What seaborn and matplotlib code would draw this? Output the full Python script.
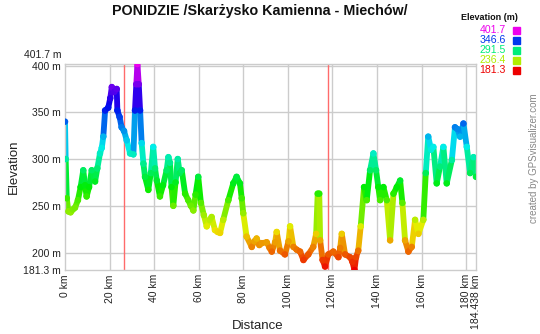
import colorsys
import numpy as np
import pandas as pd
import matplotlib
matplotlib.use("Agg")
import matplotlib.pyplot as plt
from matplotlib.colors import ListedColormap, Normalize
from matplotlib.collections import LineCollection
from matplotlib.patches import Rectangle
import seaborn as sns

# Elevation profile of the route (distance in km, elevation in m)
distance_km = [
    0, 0.3, 0.8, 1.5, 2.5, 3.5, 4.5, 5.8, 7.0, 8.2, 9.0, 9.7, 10.8, 12.0, 13.5,
    14.5, 15.7, 16.5, 17.2, 18.0, 19.4, 20.3, 21.0, 22.2, 23.2, 23.5, 24.5, 25.4,
    26.5, 27.7, 29.2, 30.7, 31.4, 32.0, 32.5, 33.1, 33.7, 34.4, 35.2, 35.9, 37.4,
    38.5, 39.6, 40.4, 41.2, 42.6, 44.0, 45.6, 46.4, 47.1, 47.8, 48.6, 49.6, 50.6,
    51.5, 52.4, 53.9, 55.3, 56.5, 57.6, 58.6, 59.8, 61.0, 62.3, 63.6, 65.0, 65.8,
    67.3, 68.5, 69.6, 71.0, 73.3, 75.5, 77.0, 78.5, 79.3, 80.0, 81.5, 83.8, 85.0,
    86.0, 87.2, 88.3, 90.5, 91.8, 92.8, 94.3, 95.0, 96.5, 98.7, 100.3, 101.0,
    102.5, 104.0, 105.5, 107.0, 109.2, 111.4, 112.7, 113.4, 114.1, 114.5, 115.6,
    116.7, 118.2, 120.4, 122.7, 123.5, 124.2, 125.7, 127.9, 129.0, 129.9, 130.6,
    131.6, 132.7, 134.2, 135.4, 136.9, 138.4, 139.6, 140.6, 141.4, 142.9, 144.4,
    145.9, 147.4, 148.9, 150.4, 151.4, 152.6, 154.1, 155.6, 157.1, 158.6, 160.8,
    161.9, 163.0, 164.3, 165.3, 166.8, 168.3, 169.8, 171.3, 173.6, 175.0, 176.2,
    177.3, 178.8, 180.3, 181.8, 183.3, 184.438,
]
elevation_m = [
    340, 300, 258, 244, 243, 246, 248, 256, 270, 288, 272, 260, 270, 288, 276,
    290, 306, 312, 324, 352, 355, 365, 377, 372, 375, 352, 345, 334,
    330, 320, 306, 305, 352, 380, 401.7, 380, 352, 317, 295, 281, 267,
    285, 313, 290, 277, 260, 272, 288, 302, 296, 270, 250, 275, 300,
    285, 288, 263, 256, 250, 245, 262, 281, 253, 240, 228, 235, 238,
    224, 222, 221, 235, 256, 274, 281, 274, 258, 242, 217, 206, 212,
    215, 208, 210, 211, 205, 201, 211, 222, 202, 198, 212, 228,
    206, 203, 201, 192, 198, 206, 220, 263, 263, 213, 192,
    185, 198, 201, 195, 205, 220, 198, 195, 190, 181.3, 195,
    202, 228, 270, 256, 288, 306, 288, 270, 256, 270, 256,
    213, 263, 270, 277, 253, 213, 201, 206, 235, 220, 235,
    285, 324, 310, 313, 274, 292, 313, 274, 299, 334, 332,
    324, 338, 313, 285, 302, 281,
]

# Route markers and axis annotations
marker_km = [26.6, 117.9]
y_ticks = [181.3, 200, 250, 300, 350, 400]
y_tick_labels = ["181.3 m", "200 m", "250 m", "300 m", "350 m", "400 m"]
x_ticks = [0, 20, 40, 60, 80, 100, 120, 140, 160, 180, 184.438]
x_tick_labels = ["0 km", "20 km", "40 km", "60 km", "80 km", "100 km",
                 "120 km", "140 km", "160 km", "180 km", "184.438 km"]
legend_values = [401.7, 346.6, 291.5, 236.4, 181.3]

elev_min, elev_max = 181.3, 401.7
total_km = 184.438

sns.set_theme(style="white")
plt.rcParams["font.family"] = ["Liberation Sans", "DejaVu Sans"]

# Hue ramp red -> yellow -> green -> cyan -> blue -> magenta
ramp = [colorsys.hsv_to_rgb(h, 1.0, 0.93) for h in np.linspace(0, 5 / 6, 256)]
cmap = ListedColormap(ramp)
norm = Normalize(elev_min, elev_max)

df = pd.DataFrame({"distance": distance_km, "elevation": elevation_m})

fig = plt.figure(figsize=(5.4, 3.34), dpi=100)
ax = fig.add_axes([65 / 540, 1 - 270 / 334, (476 - 65) / 540, (270 - 64) / 334])

# grid
for y in [200, 250, 300, 350, 400]:
    ax.axhline(y, color="#cccccc", lw=1, zorder=0)
for x in range(20, 181, 20):
    ax.axvline(x, color="#cccccc", lw=1, zorder=0)

# red route markers
for m in marker_km:
    ax.axvline(m, color="#ff6b6b", lw=1, zorder=1)

# thick profile band coloured by elevation
pts = np.column_stack([distance_km, elevation_m])
segs = np.stack([pts[:-1], pts[1:]], axis=1)
seg_vals = (np.array(elevation_m[:-1]) + np.array(elevation_m[1:])) / 2
lc = LineCollection(segs, colors=cmap(norm(seg_vals)), linewidths=4.2,
                    capstyle="round", joinstyle="round", zorder=2)
ax.add_collection(lc)

sns.scatterplot(data=df, x="distance", y="elevation", hue="elevation",
                palette=cmap, hue_norm=(elev_min, elev_max), s=22,
                linewidth=0, legend=False, ax=ax, zorder=3)

ax.set_xlim(0, total_km)
ax.set_ylim(elev_min, elev_max)
ax.set_yticks(y_ticks)
ax.set_yticklabels(y_tick_labels)
ax.set_xticks(x_ticks)
ax.set_xticklabels(x_tick_labels, rotation=90)
ax.tick_params(axis="both", length=0, pad=3, labelsize=7.5, colors="#222222")
ax.set_xlabel("")
ax.set_ylabel("")
for s in ax.spines.values():
    s.set_color("#cccccc")
    s.set_linewidth(1)

# top tick label at the maximum elevation
fig.text(62 / 540, 1 - 55 / 334, "401.7 m", ha="right", va="center",
         fontsize=7.5, color="#222222")

fig.text(14 / 540, 1 - 167 / 334, "Elevation", rotation=90, ha="center",
         va="center", fontsize=9.5, color="#222222")
fig.text(258 / 540, 1 - 326 / 334, "Distance", ha="center", va="center",
         fontsize=9.5, color="#222222")

fig.text(260 / 540, 1 - 11 / 334, "PONIDZIE /Skarżysko Kamienna - Miechów/",
         ha="center", va="center", fontsize=10.3, fontweight="bold", color="#111111")

# elevation colour key
fig.text(518 / 540, 1 - 17 / 334, "Elevation (m)", ha="right", va="center",
         fontsize=6.5, fontweight="bold", color="#111111")
for i, v in enumerate(legend_values):
    yc = 30 + 10 * i
    c = cmap(norm(v))
    fig.text(506 / 540, 1 - yc / 334, f"{v:.1f}", ha="right", va="center",
             fontsize=7.6, color=c)
    fig.patches.append(Rectangle((513 / 540, 1 - (yc + 3.5) / 334), 7 / 540, 7 / 334,
                                 transform=fig.transFigure, color=c))

fig.text(534 / 540, 1 - 158 / 334, "created by GPSvisualizer.com", rotation=90,
         ha="center", va="center", fontsize=7, color="#888888")

fig.savefig("out.png", dpi=100)
